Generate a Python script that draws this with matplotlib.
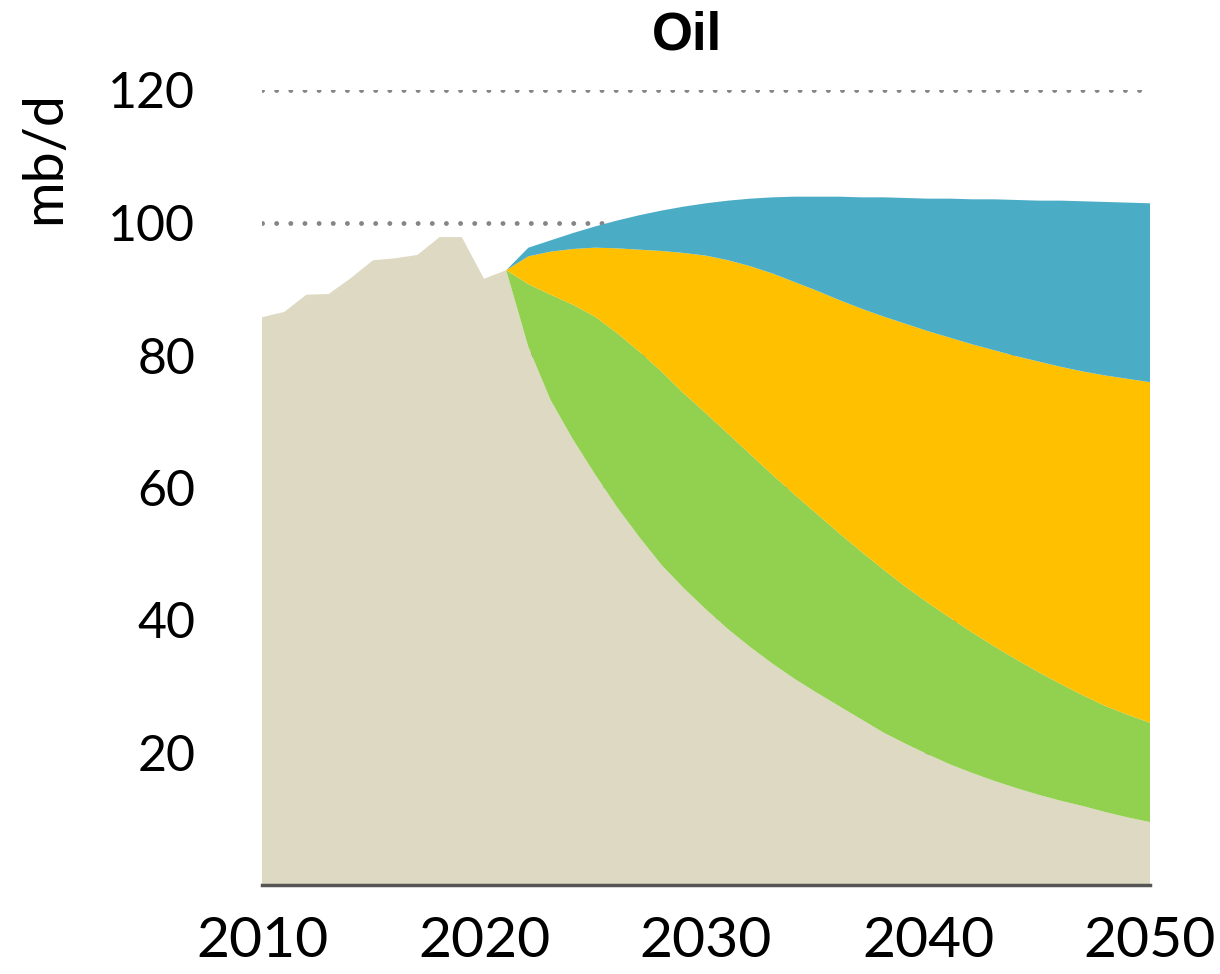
import numpy as np
import matplotlib.pyplot as plt

plt.rcParams['font.family'] = ['Lato', 'DejaVu Sans']

years = np.arange(2010, 2051)

# cumulative top of each band, mb/d
hist = [85.7, 86.5, 89.1, 89.2, 91.6, 94.3, 94.6, 95.1, 97.8, 97.8, 91.5]
base_top = [92.8, 81.2, 73.2, 67.3, 62.0, 57.0, 52.5, 48.3, 44.8, 41.6,
            38.6, 35.9, 33.4, 31.1, 29.0, 27.0, 25.0, 23.0, 21.3, 19.7,
            18.2, 16.9, 15.7, 14.6, 13.6, 12.7, 11.9, 11.0, 10.2, 9.5]
green_top = [92.8, 90.7, 89.1, 87.6, 85.8, 83.3, 80.5, 77.5, 74.2, 71.2,
             68.1, 65.0, 61.9, 58.9, 56.0, 53.1, 50.3, 47.6, 45.0, 42.6,
             40.3, 38.1, 36.0, 34.0, 32.1, 30.3, 28.6, 27.0, 25.7, 24.5]
yellow_top = [92.8, 94.9, 95.6, 96.0, 96.2, 96.1, 95.9, 95.7, 95.4, 95.0,
              94.3, 93.4, 92.3, 91.0, 89.7, 88.3, 87.0, 85.8, 84.7, 83.6,
              82.6, 81.6, 80.7, 79.8, 79.0, 78.2, 77.5, 76.9, 76.4, 75.9]
blue_top = [92.8, 96.2, 97.3, 98.4, 99.4, 100.3, 101.1, 101.8, 102.4, 102.9,
            103.3, 103.6, 103.8, 103.9, 103.9, 103.9, 103.8, 103.8, 103.7, 103.6,
            103.6, 103.5, 103.5, 103.4, 103.3, 103.3, 103.2, 103.1, 103.0, 102.9]

colors = ['#DDD9C3', '#92D050', '#FFC000', '#4BACC6']

pad = [0.0] * len(hist)
layer1 = np.array(hist + base_top)
layer2 = np.array(pad + green_top) - np.where(np.array(pad + green_top) > 0, layer1, 0)
layer3 = np.array(pad + yellow_top) - np.array(pad + green_top)
layer4 = np.array(pad + blue_top) - np.array(pad + yellow_top)

fig = plt.figure(figsize=(12.2, 9.74), dpi=100)
ax = fig.add_axes([262 / 1220, 89 / 974, 888 / 1220, 795 / 974])

ax.stackplot(years, layer1, layer2, layer3, layer4, colors=colors,
             linewidth=0, zorder=2)

ax.set_xlim(2010, 2050)
ax.set_ylim(0, 120)
ax.set_yticks([20, 40, 60, 80, 100, 120])
ax.set_xticks([2010, 2020, 2030, 2040, 2050])
ax.yaxis.grid(True, linestyle=(0, (0.01, 2.9)), color='#858585',
              linewidth=3.5, dash_capstyle='round', zorder=0)
ax.set_axisbelow(True)

for s in ['top', 'right', 'left']:
    ax.spines[s].set_visible(False)
ax.spines['bottom'].set_color('#555555')
ax.spines['bottom'].set_linewidth(2.5)
ax.spines['bottom'].set_zorder(3)

ax.tick_params(axis='both', length=0)
ax.tick_params(axis='y', labelsize=36, pad=48)
ax.tick_params(axis='x', labelsize=41, pad=22)

fig.text(45 / 1220, 1 - 158 / 974, 'mb/d', rotation=90, fontsize=40,
         ha='center', va='center')
fig.text(687 / 1220, 1 - 35 / 974, 'Oil', fontsize=38, fontweight='bold',
         ha='center', va='center', family=['Liberation Sans', 'DejaVu Sans'])

fig.savefig('out.png', dpi=100)
